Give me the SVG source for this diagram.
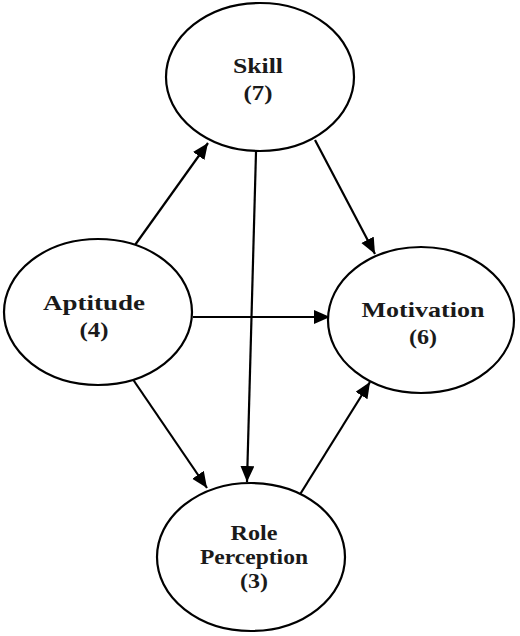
<svg xmlns="http://www.w3.org/2000/svg" width="520" height="636" viewBox="0 0 520 636">
<style>
.node ellipse{fill:#fff;stroke:#000;stroke-width:2.2}
.node text{font-family:"Liberation Serif","Times New Roman",serif;font-weight:bold;font-size:22px;fill:#1a1a1a;text-anchor:middle}
.edges line{stroke:#000;stroke-width:2.2}
</style>
<defs>
<marker id="arr" markerUnits="userSpaceOnUse" markerWidth="17" markerHeight="15" refX="16" refY="7" orient="auto">
<path d="M0,0 L16,7 L0,14 z" fill="#000"/>
</marker>
</defs>
<rect width="520" height="636" fill="#fff"/>
<g class="edges">
<line x1="135" y1="245" x2="208" y2="143" marker-end="url(#arr)"/>
<line x1="315" y1="140" x2="375" y2="254" marker-end="url(#arr)"/>
<line x1="256" y1="152" x2="247" y2="482" marker-end="url(#arr)"/>
<line x1="193" y1="317" x2="330" y2="317" marker-end="url(#arr)"/>
<line x1="132" y1="378" x2="207" y2="488" marker-end="url(#arr)"/>
<line x1="299" y1="496" x2="370" y2="382" marker-end="url(#arr)"/>
</g>
<g id="skill" class="node">
<ellipse cx="260" cy="77" rx="94" ry="74"/>
<text x="258" y="73" textLength="50" lengthAdjust="spacingAndGlyphs">Skill</text>
<text x="258" y="100" textLength="29" lengthAdjust="spacingAndGlyphs">(7)</text>
</g>
<g id="aptitude" class="node">
<ellipse cx="98" cy="312" rx="94" ry="73"/>
<text x="94" y="310" textLength="102" lengthAdjust="spacingAndGlyphs">Aptitude</text>
<text x="94" y="337" textLength="29" lengthAdjust="spacingAndGlyphs">(4)</text>
</g>
<g id="motivation" class="node">
<ellipse cx="421" cy="320" rx="93" ry="73"/>
<text x="423" y="317" textLength="123" lengthAdjust="spacingAndGlyphs">Motivation</text>
<text x="423" y="344" textLength="28" lengthAdjust="spacingAndGlyphs">(6)</text>
</g>
<g id="role" class="node">
<ellipse cx="251" cy="557" rx="94" ry="74"/>
<text x="254" y="540" textLength="47" lengthAdjust="spacingAndGlyphs">Role</text>
<text x="254" y="564" textLength="108" lengthAdjust="spacingAndGlyphs">Perception</text>
<text x="254" y="588" textLength="28" lengthAdjust="spacingAndGlyphs">(3)</text>
</g>
</svg>
